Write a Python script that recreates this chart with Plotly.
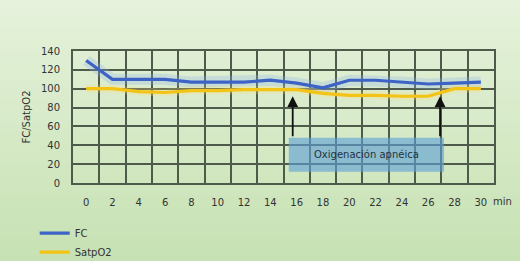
import plotly.graph_objects as go

# ---- data ----
minutes = [0, 2, 4, 6, 8, 10, 12, 14, 16, 18, 20, 22, 24, 26, 28, 30]
fc = [130, 110, 110, 110, 107, 107, 107, 109, 106, 101, 109, 109, 107, 105, 106, 107]
satpo2 = [100, 100, 97, 96, 98, 98, 99, 99, 99, 95, 93, 93, 92, 92, 100, 100]
tick_labels = [str(m) for m in minutes]
y_ticks = [0, 20, 40, 60, 80, 100, 120, 140]
box_x = [15.4, 27.2]
box_y = [12, 48]
box_label = "Oxigenación apnéica"
arrow_x = [15.7, 26.9]
arrow_from = 48
arrow_to = 92

W, H = 520, 261
L, R, T, B = 73, 26, 51, 78

fig = go.Figure()

# glow behind lines
fig.add_trace(go.Scatter(x=minutes, y=fc, mode="lines", line=dict(color="rgba(140,175,235,0.28)", width=11),
                         hoverinfo="skip", showlegend=False))
fig.add_trace(go.Scatter(x=minutes, y=satpo2, mode="lines", line=dict(color="rgba(250,220,120,0.25)", width=8),
                         hoverinfo="skip", showlegend=False))
fig.add_trace(go.Scatter(x=minutes, y=fc, mode="lines", name="FC", line=dict(color="#3d63c6", width=3.2)))
fig.add_trace(go.Scatter(x=minutes, y=satpo2, mode="lines", name="SatpO2", line=dict(color="#f3c316", width=3.2)))

# background gradient bands (paper coords extended beyond plot area)
ph = H - T - B
shapes = []
n = 40
top = (230, 242, 220)
bot = (198, 225, 178)
for i in range(n):
    p0 = H * i / n - 1
    p1 = H * (i + 1) / n + 1
    f = (i + 0.5) / n  # 0 at bottom
    c = tuple(round(bot[k] + (top[k] - bot[k]) * f) for k in range(3))
    shapes.append(dict(type="rect", xref="paper", yref="paper", x0=-0.5, x1=1.5,
                       y0=(p0 - B) / ph, y1=(p1 - B) / ph, line=dict(width=0),
                       fillcolor="rgb(%d,%d,%d)" % c, layer="below"))

shapes.append(dict(type="rect", xref="x", yref="y", x0=box_x[0], x1=box_x[1], y0=box_y[0], y1=box_y[1],
                   fillcolor="rgba(95,160,215,0.62)", line=dict(width=0), layer="above"))
fig.update_layout(shapes=shapes)

annotations = [
    dict(x=(box_x[0] + box_x[1]) / 2, y=(box_y[0] + box_y[1]) / 2, xref="x", yref="y", text=box_label,
         showarrow=False, font=dict(family="DejaVu Sans", size=10, color="#1e3340")),
    dict(x=30.8, y=0, xref="x", yref="paper", text="min", showarrow=False, xanchor="left",
         yanchor="middle", yshift=-18, font=dict(family="DejaVu Sans", size=10, color="#333")),
]
for ax_ in arrow_x:
    annotations.append(dict(x=ax_, y=arrow_to, ax=ax_, ay=arrow_from, xref="x", yref="y", axref="x", ayref="y",
                            text="", showarrow=True, arrowhead=2, arrowsize=1.2, arrowwidth=1.8,
                            arrowcolor="#111"))
fig.update_layout(annotations=annotations)

grid_color = "#4e5b4a"
fig.update_layout(
    width=W, height=H,
    margin=dict(l=L, r=R, t=T, b=B, autoexpand=False),
    paper_bgcolor="#d6ebc8",
    plot_bgcolor="rgba(0,0,0,0)",
    font=dict(family="DejaVu Sans", size=10, color="#333"),
    xaxis=dict(range=[-1, 31], tickvals=minutes, ticktext=tick_labels, showgrid=False, zeroline=False,
               showline=True, mirror=True, linecolor=grid_color, linewidth=2, ticks="",
               ticklabelstandoff=9,
               minor=dict(tickvals=list(range(-1, 32, 2)), showgrid=True, gridcolor=grid_color, gridwidth=2,
                          ticks="")),
    yaxis=dict(range=[0, 140], tickvals=y_ticks, showgrid=True, gridcolor=grid_color, gridwidth=2,
               zeroline=False, showline=True, mirror=True, linecolor=grid_color, linewidth=2, ticks="",
               ticklabelstandoff=9,
               title=dict(text="FC/SatpO2", font=dict(size=10, color="#333"), standoff=8)),
    legend=dict(x=-0.091, y=-0.27, xanchor="left", yanchor="top", bgcolor="rgba(0,0,0,0)",
                font=dict(size=10, color="#333"), tracegroupgap=0),
    showlegend=True,
)

fig.write_html("out.html")
